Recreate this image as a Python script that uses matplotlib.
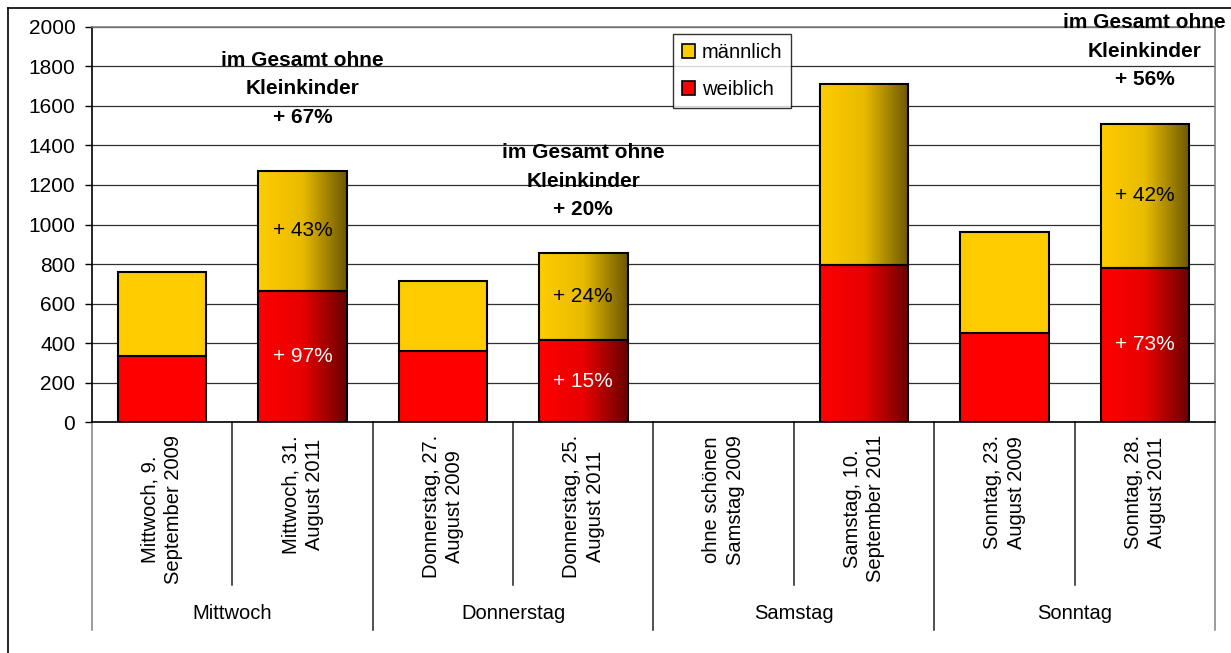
import numpy as np
import matplotlib
matplotlib.use("Agg")
from matplotlib import pyplot as plt
from matplotlib.colors import LinearSegmentedColormap
from matplotlib.lines import Line2D
from matplotlib.patches import Patch

plt.rcParams['font.family'] = ['Liberation Sans', 'DejaVu Sans']

categories = ["Mittwoch, 9.\nSeptember 2009", "Mittwoch, 31.\nAugust 2011",
              "Donnerstag, 27.\nAugust 2009", "Donnerstag, 25.\nAugust 2011",
              "ohne schönen\nSamstag 2009", "Samstag, 10.\nSeptember 2011",
              "Sonntag, 23.\nAugust 2009", "Sonntag, 28.\nAugust 2011"]
groups = ["Mittwoch", "Donnerstag", "Samstag", "Sonntag"]
weiblich = [336, 665, 358, 414, 0, 795, 451, 781]
maennlich = [425, 606, 356, 442, 0, 916, 511, 729]
year_2011 = [False, True, False, True, False, True, False, True]
w_labels = ["", "+ 97%", "", "+ 15%", "", "", "", "+ 73%"]
m_labels = ["", "+ 43%", "", "+ 24%", "", "", "", "+ 42%"]
total_idx = [1, 3, 7]
total_labels = ["+ 67%", "+ 20%", "+ 56%"]
total_y = [1686, 1220, 1878]   # where the middle line sits

fig = plt.figure(figsize=(12.31, 6.53), dpi=100)
ax = fig.add_axes([0.0747, 0.3537, 0.9123, 0.605])

x = np.arange(len(categories))
w = 0.63
red_flat, yel_flat = '#ff0000', '#ffcc00'
red_cm = LinearSegmentedColormap.from_list('rg', ['#ff0000', '#e80000', '#6a0000'])
yel_cm = LinearSegmentedColormap.from_list('yg', ['#ffcc00', '#e8bb00', '#6c5700'])
grad = np.linspace(0, 1, 256).reshape(1, -1)

fc_w = ['none' if g else red_flat for g in year_2011]
fc_m = ['none' if g else yel_flat for g in year_2011]
ec_w = ['black' if v > 0 else 'none' for v in weiblich]
ec_m = ['black' if v > 0 else 'none' for v in maennlich]

for i in range(len(x)):
    if year_2011[i]:
        ax.imshow(grad, extent=[x[i] - w/2, x[i] + w/2, 0, weiblich[i]],
                  aspect='auto', cmap=red_cm, zorder=2)
        ax.imshow(grad, extent=[x[i] - w/2, x[i] + w/2, weiblich[i], weiblich[i] + maennlich[i]],
                  aspect='auto', cmap=yel_cm, zorder=2)

ax.bar(x, weiblich, w, color=fc_w, edgecolor=ec_w, linewidth=1.5, zorder=3)
ax.bar(x, maennlich, w, bottom=weiblich, color=fc_m, edgecolor=ec_m, linewidth=1.5, zorder=3)

for i in range(len(x)):
    if w_labels[i]:
        ax.text(x[i], weiblich[i] / 2, w_labels[i], color='white', fontsize=15,
                ha='center', va='center', zorder=4)
    if m_labels[i]:
        ax.text(x[i], weiblich[i] + maennlich[i] / 2, m_labels[i], color='black', fontsize=15,
                ha='center', va='center', zorder=4)

for i, lab, yy in zip(total_idx, total_labels, total_y):
    ax.text(x[i], yy, "im Gesamt ohne\nKleinkinder\n" + lab, fontsize=15, fontweight='bold',
            ha='center', va='center', linespacing=1.65, zorder=5)

ax.set_xlim(-0.5, len(x) - 0.5)
ax.set_ylim(0, 2000)
ax.set_yticks(np.arange(0, 2001, 200))
ax.tick_params(axis='y', direction='out', length=5, width=1, pad=7, labelsize=15)
ax.set_xticks([])
ax.yaxis.grid(True, color='#303030', linewidth=0.9)
ax.set_axisbelow(True)
ax.spines['left'].set_color('black')
ax.spines['bottom'].set_color('black')
ax.spines['top'].set_color('#808080')
ax.spines['right'].set_color('#808080')
for s in ax.spines.values():
    s.set_linewidth(1.2)

# category axis below the plot
tr = ax.get_xaxis_transform()
for k in range(len(x) + 1):
    bottom = -0.527 if k % 2 == 0 else -0.413
    col = '#202020' if 0 < k < len(x) else '#808080'
    ax.add_line(Line2D([k - 0.5, k - 0.5], [0, bottom], transform=tr, color=col,
                       linewidth=1.1, clip_on=False))
for i, cat in enumerate(categories):
    ax.text(x[i], -0.033, cat, transform=tr, rotation=90, ha='center', va='top',
            multialignment='center', fontsize=14.5, linespacing=1.3)
for j, g in enumerate(groups):
    ax.text(2 * j + 0.5, -0.4835, g, transform=tr, ha='center', va='center', fontsize=14.5)

handles = [Patch(facecolor=yel_flat, edgecolor='black', linewidth=1.2),
           Patch(facecolor=red_flat, edgecolor='black', linewidth=1.2)]
leg = ax.legend(handles, ['männlich', 'weiblich'], loc='upper left',
                bbox_to_anchor=(0.517, 0.982), fontsize=14.5, frameon=True, fancybox=False,
                edgecolor='black', handlelength=0.65, handleheight=0.65, handletextpad=0.35,
                labelspacing=0.9, borderpad=0.45, borderaxespad=0)
leg.get_frame().set_linewidth(1)
leg.set_zorder(6)

# outer chart frame
fig.add_artist(Line2D([8 / 1231, 8 / 1231], [0, 1 - 8 / 653], color='black', linewidth=1.2))
fig.add_artist(Line2D([8 / 1231, 1], [1 - 8 / 653, 1 - 8 / 653], color='black', linewidth=1.2))

fig.savefig('out.png', dpi=100)
